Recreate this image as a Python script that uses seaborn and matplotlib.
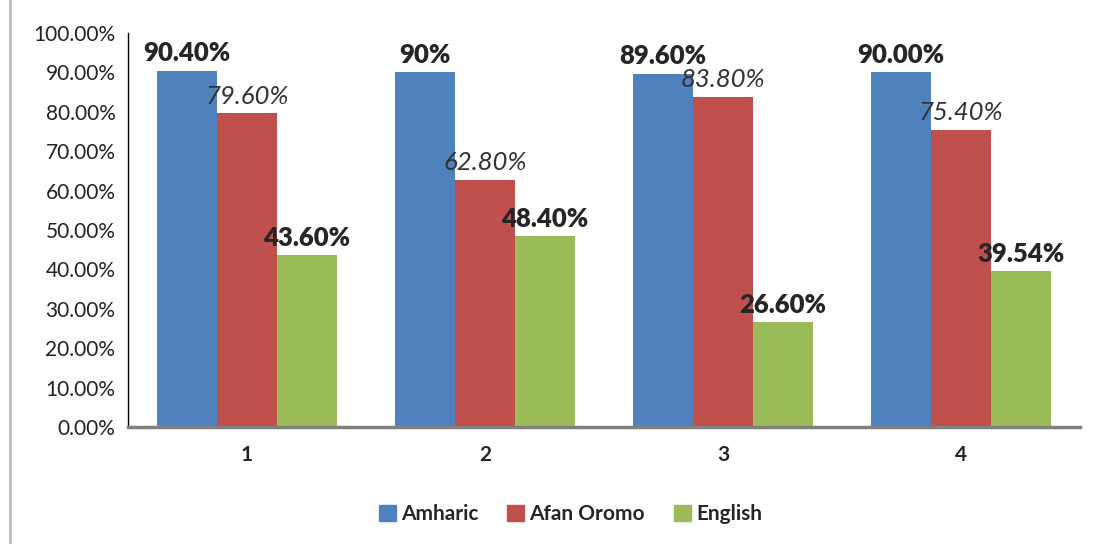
import matplotlib
matplotlib.use('Agg')
import matplotlib.pyplot as plt
import pandas as pd
import seaborn as sns
from matplotlib.lines import Line2D

# data
groups = ['1', '2', '3', '4']
amharic = [90.4, 90.0, 89.6, 90.0]
afan_oromo = [79.6, 62.8, 83.8, 75.4]
english = [43.6, 48.4, 26.6, 39.54]
amharic_lbl = ['90.40%', '90%', '89.60%', '90.00%']
afan_lbl = ['79.60%', '62.80%', '83.80%', '75.40%']
english_lbl = ['43.60%', '48.40%', '26.60%', '39.54%']
langs = ['Amharic', 'Afan Oromo', 'English']
colors = ['#4F81BD', '#C0504D', '#9BBB59']

df = pd.DataFrame({
    'group': groups * 3,
    'lang': [l for l in langs for _ in groups],
    'val': amharic + afan_oromo + english,
})

sns.set_style('white')
plt.rcParams['font.family'] = ['Lato', 'DejaVu Sans']

fig = plt.figure(figsize=(10.97, 5.44), dpi=100)
ax = fig.add_axes([128/1097, 1-427/544, (1080-128)/1097, (427-33)/544])

sns.barplot(data=df, x='group', y='val', hue='lang', palette=colors,
            width=0.756, gap=0, saturation=1, ax=ax, legend=False,
            edgecolor='none')

ax.set_ylim(0, 100)
ax.set_xlim(-0.5, 3.5)
ax.set_yticks(range(0, 101, 10))
ax.set_yticklabels(['%.2f%%' % v for v in range(0, 101, 10)], fontsize=15, color='#222222')
ax.set_xticklabels(groups, fontsize=15, fontweight='bold')
ax.set_xlabel('')
ax.set_ylabel('')
ax.tick_params(axis='y', length=0, pad=9)
ax.tick_params(axis='x', length=0, pad=13)

for s in ['top', 'right']:
    ax.spines[s].set_visible(False)
ax.spines['left'].set_color('black')
ax.spines['left'].set_linewidth(1.0)
ax.spines['bottom'].set_color('#808080')
ax.spines['bottom'].set_linewidth(2.5)

ax.bar_label(ax.containers[0], labels=amharic_lbl, fontsize=18.5, fontweight='heavy', padding=4)
ax.bar_label(ax.containers[1], labels=afan_lbl, fontsize=18.5, fontstyle='italic', color='#333333', padding=4)
ax.bar_label(ax.containers[2], labels=english_lbl, fontsize=18.5, fontweight='heavy', padding=4)

handles = [plt.Rectangle((0, 0), 1, 1, color=c) for c in colors]
fig.legend(handles, langs, loc='center', bbox_to_anchor=(0.52, 1-514/544), ncol=3,
           frameon=False, prop={'size': 15, 'weight': 'bold'},
           handlelength=0.8, handleheight=0.8, handletextpad=0.25, columnspacing=1.4)

# thin gray frame line on the left edge of the picture
fig.add_artist(Line2D([10/1097, 10/1097], [0, 1], transform=fig.transFigure,
                      color='#bbbbbb', lw=2))

fig.savefig('out.png', dpi=100, facecolor='white')
